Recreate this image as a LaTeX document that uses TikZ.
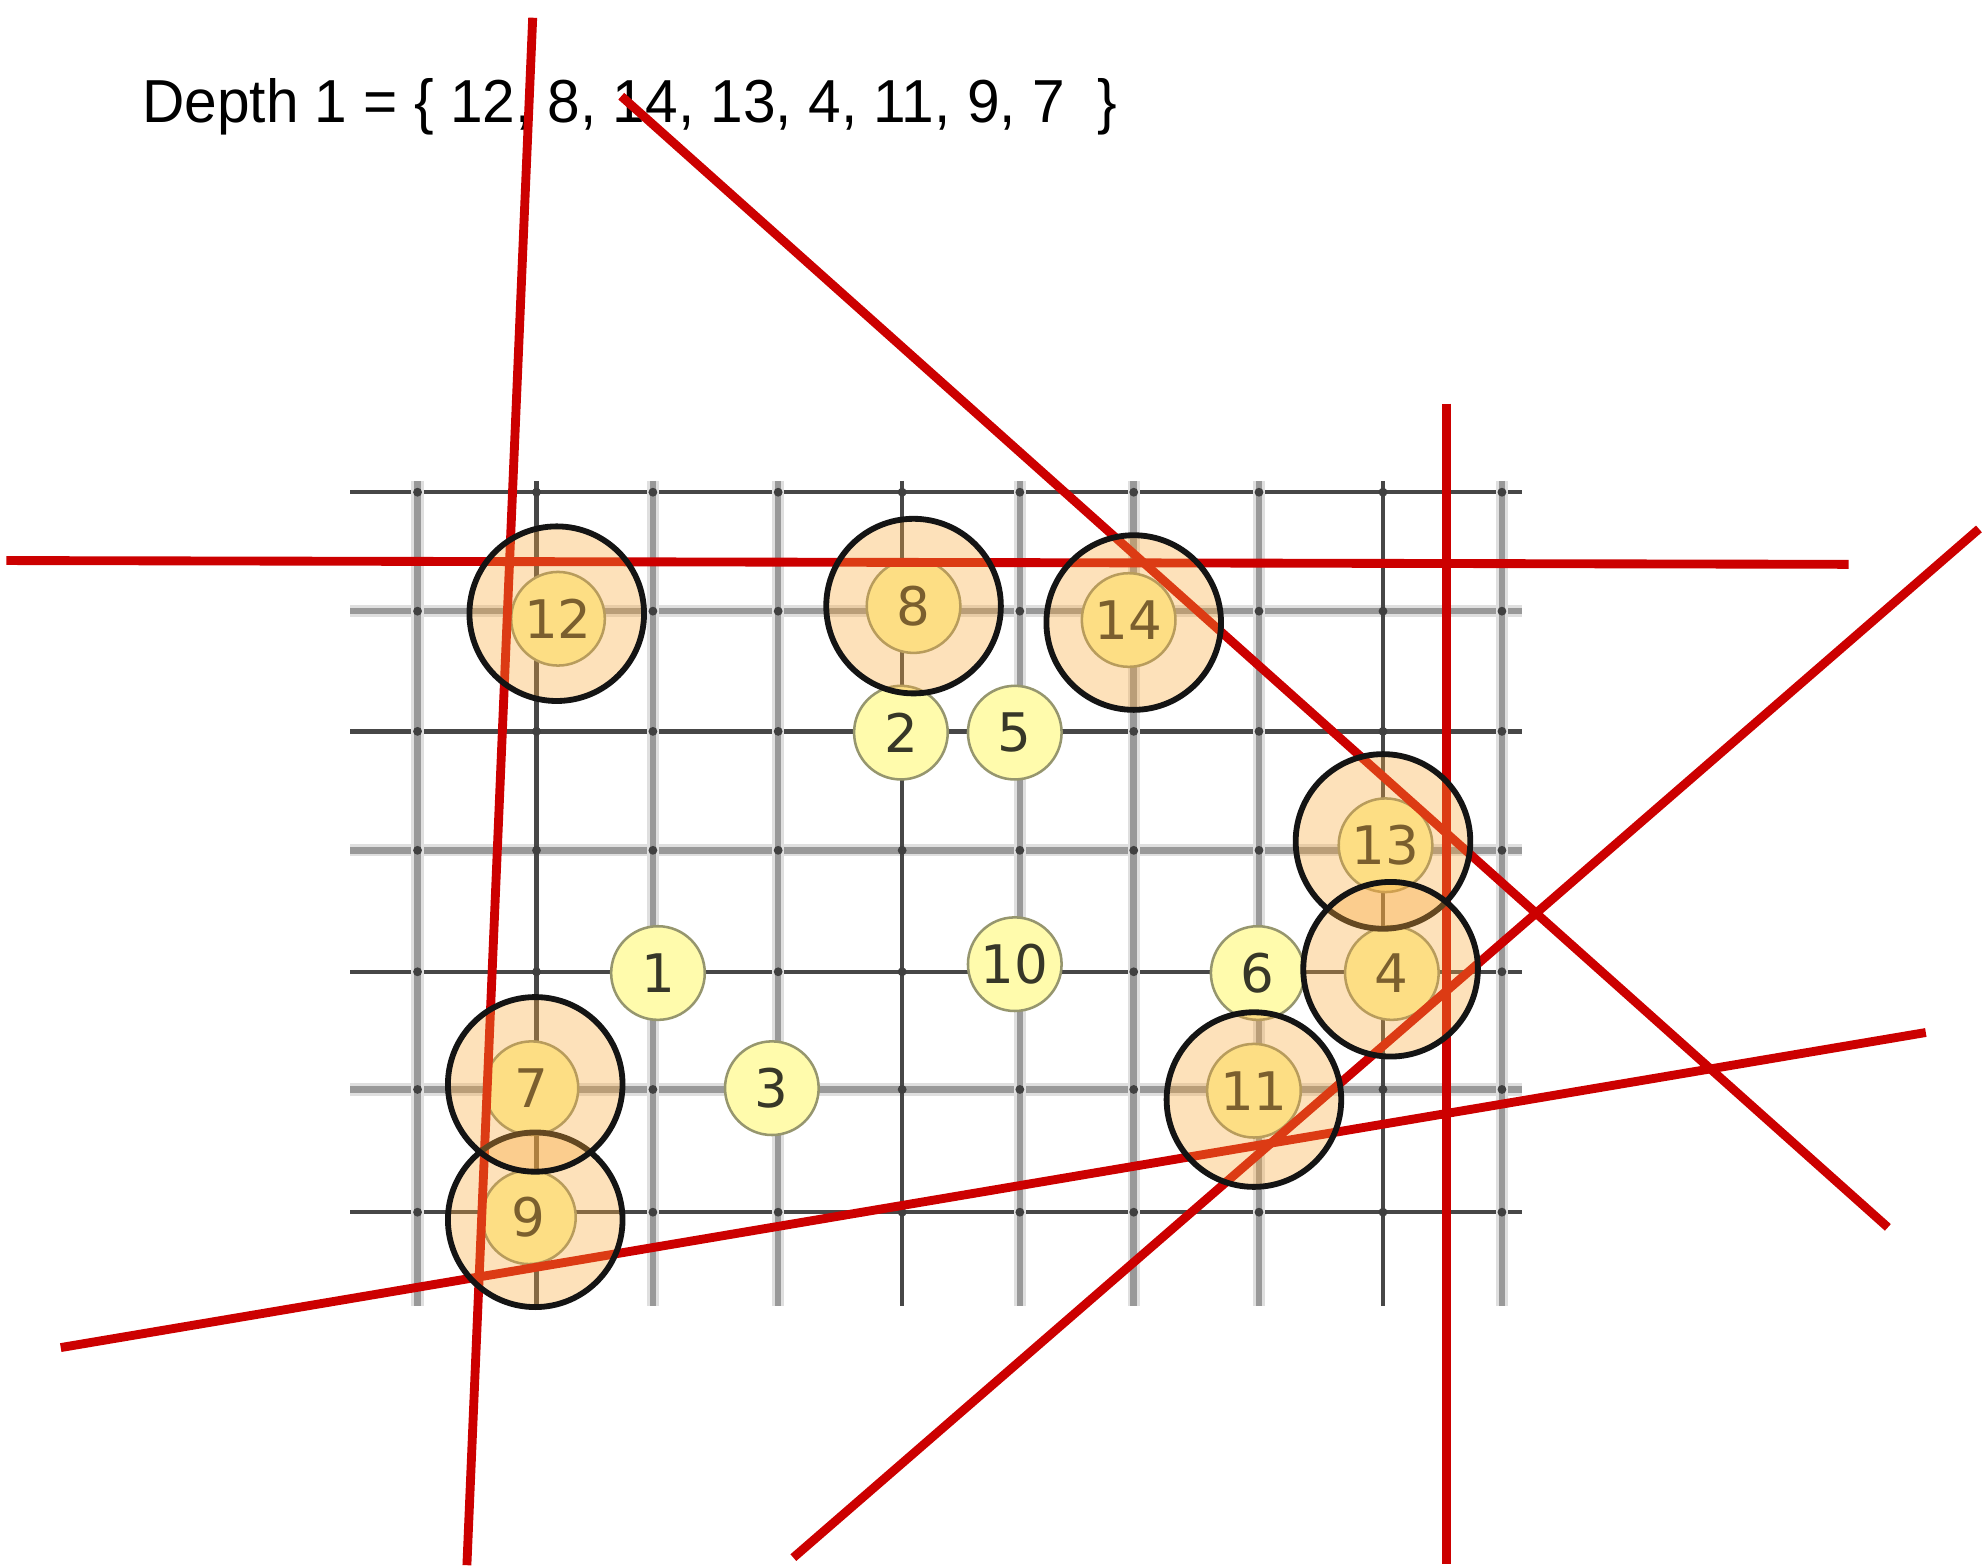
\documentclass[tikz,border=0pt]{standalone}
\usepackage{fontspec}
\setmainfont{Liberation Sans}
\newfontfamily\stonefont{DejaVu Sans}
\definecolor{redline}{RGB}{204,0,0}
\definecolor{stonefill}{RGB}{255,251,172}
\definecolor{stoneedge}{RGB}{150,150,110}
\definecolor{hlfill}{RGB}{250,170,60}
\definecolor{ringcol}{RGB}{20,20,20}
\definecolor{numcol}{RGB}{55,55,40}
\begin{document}
\begin{tikzpicture}[x=0.5pt,y=-0.5pt,
  gridthin/.style={draw=black!72, line width=1.7pt},
  gridwide/.style={draw=gray!80, line width=2.6pt},
  gridhalo/.style={draw=gray!25, line width=4.8pt},
  stone/.style={circle, draw=stoneedge, line width=1pt, fill=stonefill, minimum size=37pt, inner sep=0pt, font=\stonefont\fontsize{21}{21}\selectfont, text=numcol},
  pick/.style={circle, draw=ringcol, line width=2.3pt, fill=hlfill, fill opacity=0.35, draw opacity=1, minimum size=69pt, inner sep=0pt},
  cut/.style={draw=redline, line width=3.5pt},
  title/.style={anchor=base west, inner sep=0pt, font=\fontsize{24}{28}\selectfont}]
\useasboundingbox (0,0) rectangle (1568,1239);
\fill[white] (0,0) rectangle (1568,1239);
% grid
\foreach \y in {483,672,861} {\draw[gridhalo] (277,\y) -- (1203,\y); \draw[gridwide] (277,\y) -- (1203,\y);}
\foreach \y in {389,578,768,958} {\draw[gridthin] (277,\y) -- (1203,\y);}
\foreach \x in {330,516,615,806,896,995,1187} {\draw[gridhalo] (\x,380) -- (\x,1032); \draw[gridwide] (\x,380) -- (\x,1032);}
\foreach \x in {424,713,1093} {\draw[gridthin] (\x,380) -- (\x,1032);}
\foreach \x in {330,424,516,615,713,806,896,995,1093,1187}
  \foreach \y in {389,483,578,672,768,861,958}
    \fill[black!75] (\x,\y) circle (3.5);
% stones
\node[stone] (s1) at (520,769) {1};
\node[stone] (s2) at (712,579) {2};
\node[stone] (s3) at (610,860) {3};
\node[stone] (s4) at (1100,769) {4};
\node[stone] (s5) at (802,579) {5};
\node[stone] (s6) at (994,769) {6};
\node[stone] (s7) at (420,860) {7};
\node[stone] (s8) at (722,479) {8};
\node[stone] (s9) at (418,962) {9};
\node[stone] (s10) at (802,762) {10};
\node[stone] (s11) at (991,862) {11};
\node[stone] (s12) at (441,489) {12};
\node[stone] (s13) at (1095,668) {13};
\node[stone] (s14) at (892,490) {14};
% title
\node[title] (t) at (112,97) {\scalebox{0.965}[1]{Depth 1 = \{ 12, 8, 14, 13, 4, 11, 9, 7 \ \}}};
% cut lines
\coordinate (a1) at (421,14);   \coordinate (a2) at (369,1237);
\coordinate (b1) at (491,76);   \coordinate (b2) at (1492,970);
\coordinate (c1) at (5,443);    \coordinate (c2) at (1461,446);
\coordinate (d1) at (1143,319); \coordinate (d2) at (1143,1236);
\coordinate (e1) at (627,1231); \coordinate (e2) at (1564,418);
\coordinate (f1) at (48,1065);  \coordinate (f2) at (1522,816);
\draw[cut] (a1) -- (a2);
\draw[cut] (b1) -- (b2);
\draw[cut] (c1) -- (c2);
\draw[cut] (d1) -- (d2);
\draw[cut] (e1) -- (e2);
\draw[cut] (f1) -- (f2);
% selected
\node[pick] (p12) at (440,485) {};
\node[pick] (p8) at (722,479) {};
\node[pick] (p14) at (896,492) {};
\node[pick] (p13) at (1093,665) {};
\node[pick] (p4) at (1099,766) {};
\node[pick] (p11) at (991,869) {};
\node[pick] (p9) at (423,964) {};
\node[pick] (p7) at (423,857) {};
\end{tikzpicture}
\end{document}
